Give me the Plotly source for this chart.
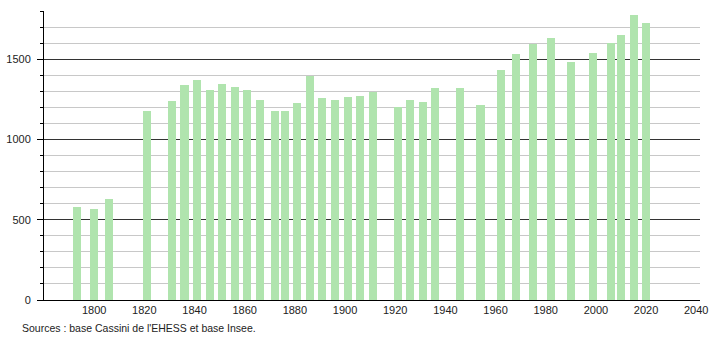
import plotly.graph_objects as go

years = [1793, 1800, 1806, 1821, 1831, 1836, 1841, 1846, 1851, 1856, 1861, 1866,
         1872, 1876, 1881, 1886, 1891, 1896, 1901, 1906, 1911, 1921, 1926, 1931,
         1936, 1946, 1954, 1962, 1968, 1975, 1982, 1990, 1999, 2006, 2010, 2015, 2020]
population = [577, 565, 627, 1175, 1239, 1339, 1370, 1308, 1345, 1324, 1306, 1245,
              1175, 1175, 1225, 1395, 1256, 1245, 1262, 1268, 1295, 1200, 1245, 1231,
              1322, 1318, 1212, 1430, 1530, 1596, 1630, 1482, 1538, 1598, 1650, 1775, 1723]
x_ticks = [1800, 1820, 1840, 1860, 1880, 1900, 1920, 1940, 1960, 1980, 2000, 2020, 2040]
y_ticks = [0, 500, 1000, 1500]
source_text = "Sources : base Cassini de l'EHESS et base Insee."

FONT = "Liberation Sans, Arial, sans-serif"
L, R, T, B = 44, 9.5, 11, 40
W, H = 710, 340

fig = go.Figure()
fig.add_trace(go.Bar(
    x=years, y=population, width=3.2,
    marker=dict(color="rgb(176,228,174)", line=dict(width=0)),
    hoverinfo="x+y",
))

fig.update_layout(
    width=W, height=H,
    margin=dict(l=L, r=R, t=T, b=B, autoexpand=False),
    paper_bgcolor="white", plot_bgcolor="white",
    showlegend=False, bargap=0,
    font=dict(family=FONT, size=11, color="#222"),
    xaxis=dict(
        range=[1780, 2041.5], tickvals=x_ticks, ticktext=[str(v) for v in x_ticks],
        showgrid=False, zeroline=False, showline=True, linecolor="#000", linewidth=1,
        ticks="", tickfont=dict(size=11, color="#222"), fixedrange=True,
    ),
    yaxis=dict(
        range=[0, 1800], tickvals=y_ticks, ticktext=[str(v) for v in y_ticks],
        showgrid=True, gridcolor="#333", gridwidth=1,
        zeroline=False, showline=True, linecolor="#000", linewidth=1,
        ticks="outside", ticklen=6, tickcolor="#000", tickwidth=1,
        ticklabelstandoff=4,
        tickfont=dict(size=11, color="#222"),
        minor=dict(dtick=100, showgrid=True, gridcolor="#c8c8c8", gridwidth=1,
                   ticks="outside", ticklen=3, tickcolor="#000", tickwidth=1),
        fixedrange=True, layer="below traces",
    ),
    annotations=[dict(
        text=source_text, x=(20 - L) / (W - L - R), y=(300 - 328) / (H - T - B),
        xref="paper", yref="paper",
        showarrow=False, xanchor="left", yanchor="middle",
        font=dict(family=FONT, size=10.5, color="#222"),
    )],
)

fig.write_html("out.html", config={"displayModeBar": False},
               default_width="710px", default_height="340px")
